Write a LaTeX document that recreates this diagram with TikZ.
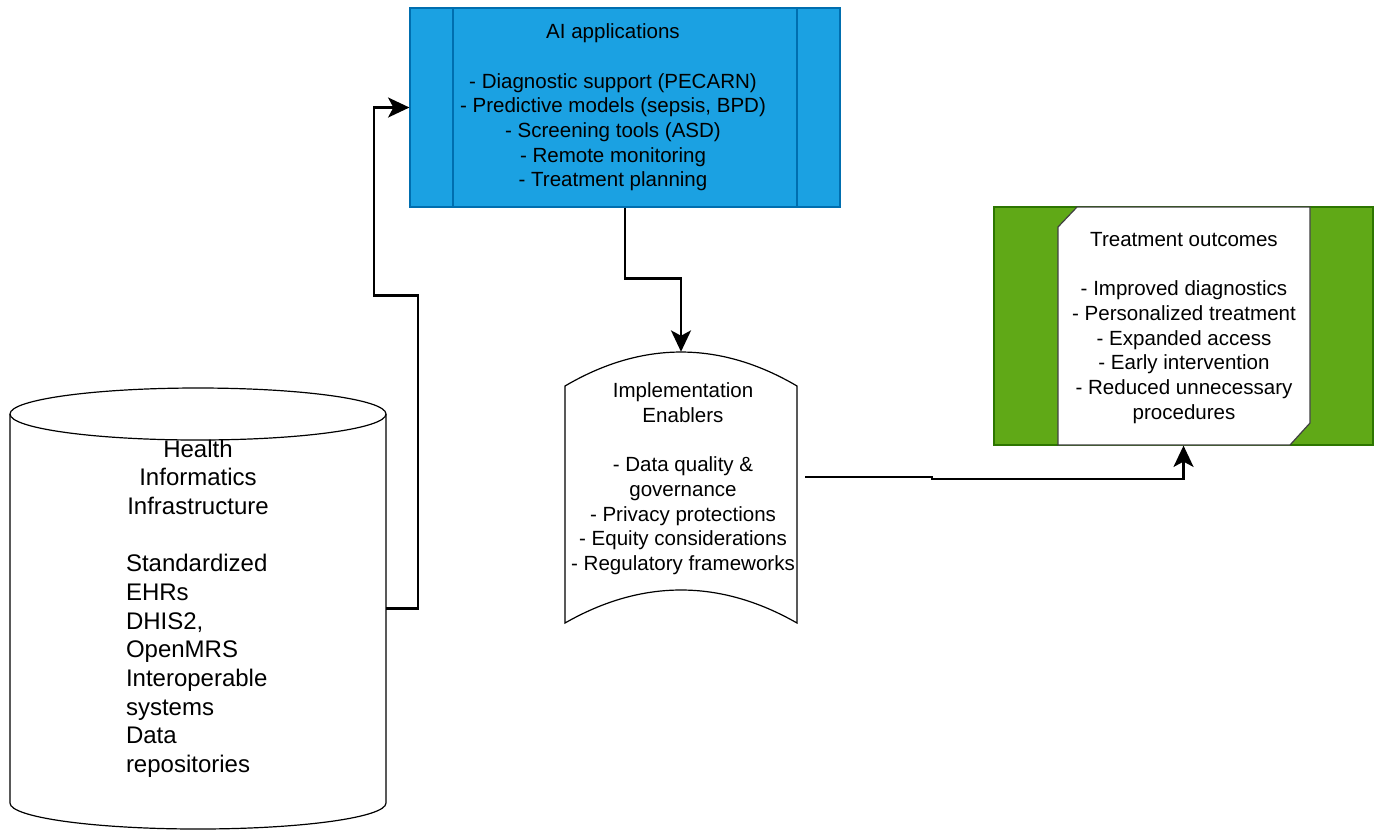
\documentclass[tikz,border=0pt]{standalone}
\usepackage{fontspec}
\setmainfont{Liberation Sans}
\usetikzlibrary{arrows.meta}
\definecolor{aiblue}{HTML}{1BA1E2}
\definecolor{aiedge}{HTML}{006EAF}
\definecolor{outgreen}{HTML}{60A917}
\definecolor{outedge}{HTML}{2D7600}

\begin{document}
\begin{tikzpicture}[x=0.75pt, y=-0.75pt,
  txt/.style={font=\fontsize{15.4}{18.5}\selectfont, align=center, inner sep=0pt},
  link/.style={line width=1.8pt, -{Stealth[length=16pt, width=15pt, inset=4pt]}},
  outline/.style={line width=0.9pt}]
  \useasboundingbox (0,0) rectangle (1376,829);

  % data store
  \draw[outline] (10,414) -- (10,803) arc[start angle=180, end angle=0, x radius=188, y radius=26] -- (386,414);
  \draw[outline] (198,414) ellipse [x radius=188, y radius=26];
  \node[minimum width=282pt, minimum height=330.75pt, inner sep=0pt,
        font=\fontsize{18}{21.5}\selectfont, text width=108pt, align=left] (hii) at (198,608.5)
    {\makebox[108pt]{Health}\\\makebox[108pt]{Informatics}\\\makebox[108pt]{Infrastructure}\\[21.5pt]
     Standardized\\EHRs\\DHIS2,\\OpenMRS\\Interoperable\\systems\\Data\\repositories};

  % AI applications
  \node[fill=aiblue, draw=aiedge, outline, minimum width=322.5pt, minimum height=149.25pt] (ai) at (625,107.5) {};
  \draw[aiedge, outline] (453,8) -- (453,207) (797,8) -- (797,207);
  \node[txt] (aitext) at (613,107.5)
    {AI applications\\[18.5pt]- Diagnostic support (PECARN)\\- Predictive models (sepsis, BPD)\\
     - Screening tools (ASD)\\- Remote monitoring\\- Treatment planning};

  % enablers
  \draw[outline] (565,386) .. controls (642,340.7) and (720,340.7) .. (797,386) -- (797,623)
    .. controls (720,579) and (642,579) .. (565,623) -- cycle;
  \node[minimum width=174pt, minimum height=203.25pt, inner sep=0pt] (enab) at (681,487.5) {};
  \node[txt] (enabtext) at (683,479)
    {Implementation\\Enablers\\[18.5pt]- Data quality \&\\governance\\- Privacy protections\\
     - Equity considerations\\- Regulatory frameworks};

  % outcomes
  \node[fill=outgreen, draw=outedge, outline, minimum width=284.25pt, minimum height=178.5pt] (outc) at (1183.5,326) {};
  \filldraw[fill=white, draw=black!75, outline] (1077,207) -- (1310,207) -- (1310,423) -- (1290,445)
    -- (1058,445) -- (1058,227) -- cycle;
  \node[txt] (outtext) at (1184,328)
    {Treatment outcomes\\[18.5pt]- Improved diagnostics\\- Personalized treatment\\- Expanded access\\
     - Early intervention\\- Reduced unnecessary\\procedures};

  \draw[link] (hii.east) -- ++(32,0) -- ++(0,-313) -- ++(-44,0) |- (ai.west);
  \draw[link] (ai.south) -- ++(0,71) -| (enab.north);
  \draw[link] ([xshift=6pt, yshift=7.9pt]enab.east) -- ++(127,0) -- ++(0,2) -| (outc.south);
\end{tikzpicture}
\end{document}
